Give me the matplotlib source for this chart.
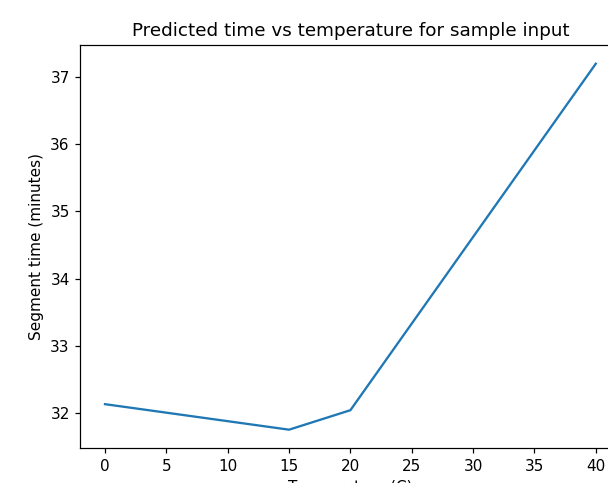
import matplotlib
matplotlib.use("Agg")
import matplotlib.pyplot as plt

temperature = [0, 15, 20, 40]
segment_time = [32.13, 31.75, 32.04, 37.20]

# render slightly larger than default so text matches the reference
dpi = 110
fig = plt.figure(figsize=(608 / dpi, 483 / dpi), dpi=dpi)
ax = fig.add_axes([0.1323, 0.0725, 0.888, 0.8335])
ax.plot(temperature, segment_time)
ax.set_title('Predicted time vs temperature for sample input')
ax.set_xlabel('Temperature (C)')
ax.set_ylabel('Segment time (minutes)')
ax.set_xticks([0, 5, 10, 15, 20, 25, 30, 35, 40])
fig.savefig('out.png', dpi=dpi)
